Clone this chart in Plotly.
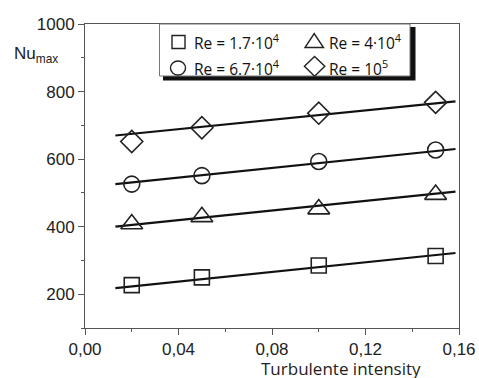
import plotly.graph_objects as go

# ---- data ----
turb = [0.02, 0.05, 0.10, 0.15]
nu_re17 = [227, 250, 285, 313]
nu_re40 = [408, 429, 452, 495]
nu_re67 = [526, 551, 593, 627]
nu_re100 = [652, 693, 736, 768]

fit_x = [0.013, 0.1585]
fit_re17 = [218, 322]
fit_re40 = [400, 504]
fit_re67 = [526, 630]
fit_re100 = [670, 771]

names = ["Re = 1.7·10<sup>4</sup>", "Re = 4·10<sup>4</sup>",
         "Re = 6.7·10<sup>4</sup>", "Re = 10<sup>5</sup>"]
symbols = ["square-open", "triangle-up-open", "circle-open", "diamond-open"]
sizes = [15, 19, 16, 17]
series = [nu_re17, nu_re40, nu_re67, nu_re100]
fits = [fit_re17, fit_re40, fit_re67, fit_re100]

xtick_vals = [0.00, 0.04, 0.08, 0.12, 0.16]
xtick_text = ["0,00", "0,04", "0,08", "0,12", "0,16"]
ytick_vals = [200, 400, 600, 800, 1000]
ytick_text = ["200", "400", "600", "800", "1000"]

W, H = 479, 378
ML, MR, MT, MB = 85, 20, 24, 50
TICKFONT = "Liberation Sans, Arial, sans-serif"
INK = "#222"

fig = go.Figure()
for f in fits:
    fig.add_trace(go.Scatter(x=fit_x, y=f, mode="lines", showlegend=False,
                             line=dict(color="#111", width=2.2), hoverinfo="skip"))
for n, s, sym, sz in zip(names, series, symbols, sizes):
    fig.add_trace(go.Scatter(x=turb, y=s, mode="markers", name=n, showlegend=False,
                             marker=dict(symbol=sym, size=sz, color=INK,
                                         line=dict(width=1.6, color=INK))))

pw = W - ML - MR
ph = H - MT - MB
def px_x(p):
    return (p - ML) / pw
def px_y(p):
    return 1 - (p - MT) / ph

shapes = []
# legend shadow and box
shapes.append(dict(type="rect", xref="paper", yref="paper", layer="above",
                   x0=px_x(163), x1=px_x(415.5), y0=px_y(80.5), y1=px_y(27),
                   fillcolor="#111", line=dict(width=0)))
shapes.append(dict(type="rect", xref="paper", yref="paper", layer="above",
                   x0=px_x(159.5), x1=px_x(410), y0=px_y(76), y1=px_y(24),
                   fillcolor="white", line=dict(width=1, color="#777")))
sym_line = dict(width=1.4, color=INK)
# square
shapes.append(dict(type="rect", xref="paper", yref="paper", layer="above",
                   x0=px_x(172), x1=px_x(185), y0=px_y(48.5), y1=px_y(35.5),
                   line=sym_line))
# circle
shapes.append(dict(type="circle", xref="paper", yref="paper", layer="above",
                   x0=px_x(170.5), x1=px_x(185.5), y0=px_y(75), y1=px_y(61),
                   line=sym_line))
# triangle
shapes.append(dict(type="path", xref="paper", yref="paper", layer="above",
                   path="M{},{} L{},{} L{},{} Z".format(px_x(305), px_y(47.5),
                                                        px_x(323.5), px_y(47.5),
                                                        px_x(314.2), px_y(33.5)),
                   line=sym_line))
# diamond
shapes.append(dict(type="path", xref="paper", yref="paper", layer="above",
                   path="M{},{} L{},{} L{},{} L{},{} Z".format(px_x(314.6), px_y(56.5),
                                                              px_x(324.8), px_y(66.3),
                                                              px_x(314.6), px_y(76.2),
                                                              px_x(304.4), px_y(66.3)),
                   line=sym_line))

leg_font = dict(family="Open Sans, sans-serif", size=15.5, color="#111")
legend_text = [(names[0], 191.5, 42.5), (names[1], 327, 42.5),
               (names[2], 191.5, 68), (names[3], 327, 68)]
annotations = [dict(text=t, xref="paper", yref="paper", x=px_x(xp), y=px_y(yp),
                    xanchor="left", yanchor="middle", showarrow=False, font=leg_font)
               for t, xp, yp in legend_text]
annotations += [
    dict(text="Turbulente intensity", xref="paper", yref="paper",
         x=px_x(258.5), y=px_y(368.5), xanchor="left", yanchor="middle", showarrow=False,
         font=dict(family="Open Sans, sans-serif", size=17, color=INK)),
    dict(text="Nu<sub>max</sub>", xref="paper", yref="paper",
         x=px_x(11.5), y=px_y(55), xanchor="left", yanchor="middle", showarrow=False,
         font=dict(family=TICKFONT, size=17, color=INK)),
]

axis_common = dict(showgrid=False, zeroline=False, showline=True, linecolor="#555",
                   linewidth=1, mirror=True, ticks="outside", ticklen=6, tickcolor="#555",
                   automargin=False, tickfont=dict(family=TICKFONT, size=17, color=INK))

fig.update_layout(
    width=W, height=H,
    margin=dict(l=ML, r=MR, t=MT, b=MB),
    paper_bgcolor="white", plot_bgcolor="white",
    font=dict(family=TICKFONT, color=INK),
    showlegend=False,
    shapes=shapes,
    annotations=annotations,
    xaxis=dict(range=[0, 0.16], tickvals=xtick_vals, ticktext=xtick_text,
               minor=dict(dtick=0.02, ticks="outside", ticklen=3, tickcolor="#555"),
               **axis_common),
    yaxis=dict(range=[100, 1000], tickvals=ytick_vals, ticktext=ytick_text,
               minor=dict(dtick=100, ticks="outside", ticklen=3, tickcolor="#555"),
               **axis_common),
)

fig.write_html("out.html")
